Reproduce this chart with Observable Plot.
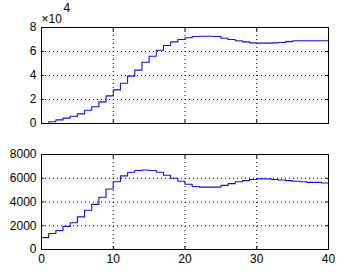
<!DOCTYPE html>
<html><head><meta charset="utf-8">
<script src="https://cdn.jsdelivr.net/npm/d3@7"></script>
<script src="https://cdn.jsdelivr.net/npm/@observablehq/plot@0.6"></script>
<style>
body{margin:0;background:#fff}
#c{width:353px;height:274px;overflow:hidden}
#c svg{display:block}
</style>
</head><body><div id="c"></div>
<script>
const time = [0,1,2,3,4,5,6,7,8,9,10,11,12,13,14,15,16,17,18,19,20,21,22,23,24,25,26,27,28,29,30,31,32,33,34,35,36,37,38,39,40];
const topSeries = [0,1500,3000,4500,6000,8000,11000,14000,18000,23000,28000,33500,39500,44500,51000,56000,61000,65000,68000,70000,71500,72500,72700,72700,72500,71000,70000,69000,68000,67200,67000,67000,67200,67500,68200,69000,69000,69000,69000,69000,69000];
const bottomSeries = [1000,1350,1600,1950,2250,2750,3300,3800,4400,5100,5700,6200,6500,6650,6700,6650,6500,6250,6000,5750,5500,5300,5250,5250,5250,5400,5550,5700,5800,5900,5950,5950,5900,5850,5800,5750,5700,5650,5650,5600,5600];
const xTicks = [0,10,20,30,40];
const topTicks = [0,20000,40000,60000,80000];
const bottomTicks = [0,2000,4000,6000,8000];
const exponentLabel = ["×10"];
const exponentPower = ["4"];

const font = "'Liberation Sans', Arial, Helvetica, sans-serif";
const gridStyle = {stroke: "black", strokeOpacity: 1, strokeWidth: 1, strokeDasharray: "1,3"};

function panel({values, yTicks, yFormat, height, marginTop, marginBottom, showX, extra = []}) {
  const data = time.map((t, i) => ({t, v: values[i]}));
  return Plot.plot({
    width: 353, height, marginLeft: 41, marginRight: 25, marginTop, marginBottom,
    style: {fontFamily: font, fontSize: "12px", color: "black", background: "white", overflow: "visible"},
    x: {domain: [xTicks[0], xTicks[xTicks.length - 1]]},
    y: {domain: [yTicks[0], yTicks[yTicks.length - 1]]},
    marks: [
      Plot.gridX(xTicks.slice(1, -1), gridStyle),
      Plot.gridY(yTicks.slice(1, -1), gridStyle),
      Plot.line(data, {x: "t", y: "v", curve: "step-after", stroke: "#1010ee", strokeWidth: 1.1}),
      Plot.frame({stroke: "black", strokeWidth: 1}),
      Plot.axisX(xTicks, {anchor: "bottom", tickSize: -3, tickPadding: 8, label: null, fill: "black",
        tickFormat: showX ? (d => String(d)) : (() => "")}),
      Plot.axisX(xTicks, {anchor: "top", tickSize: -3, label: null, tickFormat: () => ""}),
      Plot.axisY(yTicks, {anchor: "left", tickSize: -3, tickPadding: 8, label: null, fill: "black", tickFormat: yFormat}),
      Plot.axisY(yTicks, {anchor: "right", tickSize: -3, label: null, tickFormat: () => ""}),
      ...extra
    ]
  });
}

const c = document.getElementById("c");
c.append(panel({
  values: topSeries, yTicks: topTicks, yFormat: d => String(d / 10000),
  height: 137, marginTop: 27, marginBottom: 14, showX: false,
  extra: [
    Plot.text(exponentLabel, {frameAnchor: "top-left", textAnchor: "start", dx: 0, dy: -13, fill: "black", fontSize: 12}),
    Plot.text(exponentPower, {frameAnchor: "top-left", textAnchor: "start", dx: 22, dy: -24, fill: "black", fontSize: 12})
  ]
}));
c.append(panel({
  values: bottomSeries, yTicks: bottomTicks, yFormat: d => String(d),
  height: 137, marginTop: 17, marginBottom: 25, showX: true
}));
</script>
</body></html>
